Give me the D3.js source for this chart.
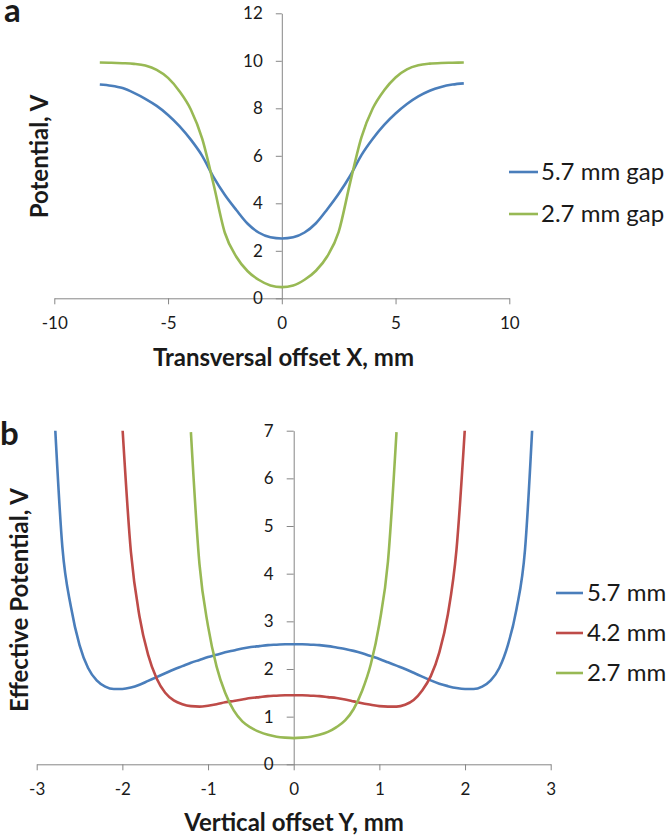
<!DOCTYPE html>
<html><head><meta charset="utf-8">
<script src="https://cdn.jsdelivr.net/npm/d3@7"></script>
<style>
body{margin:0;background:#fff}
svg{display:block}
text{font-family:Lato,"Open Sans",sans-serif;fill:#1a1a1a}
</style>
</head><body>
<svg id="c" width="666" height="836"></svg>
<script>
// ---------- Panel a data ----------
const aX = [-8,-7.5,-7,-6.5,-6,-5.5,-5,-4.5,-4,-3.5,-3,-2.5,-2,-1.5,-1,-0.5,0,0.5,1,1.5,2,2.5,3,3.5,4,4.5,5,5.5,6,6.5,7,7.5,8];
const aGap57 = [9.00,8.95,8.85,8.65,8.40,8.10,7.72,7.25,6.68,6.00,5.10,4.35,3.72,3.14,2.76,2.57,2.52,2.57,2.77,3.16,3.75,4.40,5.15,6.03,6.72,7.30,7.78,8.18,8.50,8.74,8.90,9.00,9.05];
const aGap27 = [9.93,9.92,9.90,9.87,9.80,9.62,9.28,8.72,7.95,6.72,4.80,2.75,1.75,1.14,0.77,0.54,0.47,0.54,0.78,1.16,1.77,2.80,4.85,6.78,8.00,8.76,9.30,9.64,9.81,9.88,9.91,9.92,9.93];
const aSeriesNames = ["5.7 mm gap","2.7 mm gap"];
const aXTicks = [-10,-5,0,5,10];
const aYTicks = [0,2,4,6,8,10,12];

// ---------- Panel b data ----------
const bX57 = [-2.8,-2.7,-2.6,-2.5,-2.4,-2.3,-2.2,-2.1,-2.0,-1.9,-1.8,-1.7,-1.6,-1.5,-1.4,-1.3,-1.2,-1.1,-1.0,-0.9,-0.8,-0.7,-0.6,-0.5,-0.4,-0.3,-0.2,-0.1,0,
  0.1,0.2,0.3,0.4,0.5,0.6,0.7,0.8,0.9,1.0,1.1,1.2,1.3,1.4,1.5,1.6,1.7,1.8,1.9,2.0,2.1,2.2,2.3,2.4,2.5,2.6,2.7,2.8];
const bY57 = [7.6,4.55,3.3,2.5,2.02,1.76,1.63,1.58,1.58,1.61,1.67,1.75,1.83,1.91,1.99,2.06,2.13,2.19,2.25,2.30,2.35,2.39,2.43,2.46,2.48,2.50,2.51,2.52,2.52,
  2.52,2.51,2.50,2.48,2.45,2.42,2.38,2.33,2.27,2.21,2.14,2.07,2.00,1.92,1.84,1.76,1.69,1.64,1.60,1.58,1.58,1.63,1.76,2.02,2.5,3.25,4.5,7.6];
const bX42 = [-2.0,-1.9,-1.8,-1.7,-1.6,-1.5,-1.4,-1.3,-1.2,-1.1,-1.0,-0.9,-0.8,-0.7,-0.6,-0.5,-0.4,-0.3,-0.2,-0.1,0,
  0.1,0.2,0.3,0.4,0.5,0.6,0.7,0.8,0.9,1.0,1.1,1.2,1.3,1.4,1.5,1.6,1.7,1.8,1.9,2.0];
const bY42 = [7.1,4.45,3.1,2.3,1.8,1.5,1.34,1.26,1.22,1.21,1.23,1.26,1.30,1.33,1.36,1.39,1.41,1.43,1.44,1.45,1.45,
  1.45,1.44,1.43,1.41,1.39,1.36,1.32,1.28,1.25,1.22,1.21,1.21,1.25,1.35,1.55,1.85,2.35,3.15,4.5,7.1];
const bX27 = [-1.2,-1.1,-1.0,-0.9,-0.8,-0.7,-0.6,-0.5,-0.4,-0.3,-0.2,-0.1,0,0.1,0.2,0.3,0.4,0.5,0.6,0.7,0.8,0.9,1.0,1.1,1.2];
const bY27 = [6.97,4.2,2.9,2.05,1.5,1.13,0.9,0.77,0.68,0.62,0.58,0.56,0.55,0.56,0.58,0.62,0.68,0.78,0.92,1.16,1.55,2.1,2.95,4.25,6.97];
const bSeriesNames = ["5.7 mm","4.2 mm","2.7 mm"];
const bXTicks = [-3,-2,-1,0,1,2,3];
const bYTicks = [0,1,2,3,4,5,6,7];

const BLUE = "#4a7ebb", RED = "#be4b48", GREEN = "#98b954", AXIS = "#868686";
const fmt = d => String(d);   // plain hyphen-minus like the original

const svg = d3.select("#c");

function styleAxis(g){
  g.select(".domain").attr("stroke", AXIS).attr("stroke-width",1);
  g.selectAll(".tick line").attr("stroke", AXIS).attr("stroke-width",1);
  g.selectAll(".tick text").attr("font-size","17px").attr("fill","#1a1a1a")
    .style("font-family","Lato, 'Open Sans', sans-serif");
}

// ================= Panel a =================
const xA = d3.scaleLinear().domain([-10,10]).range([54.3,509.3]);
const yA = d3.scaleLinear().domain([0,12]).range([298.3,13.3]);

svg.append("g").attr("transform",`translate(0,${yA(0)})`)
  .call(d3.axisBottom(xA).tickValues(aXTicks).tickSize(6).tickSizeOuter(0).tickPadding(13).tickFormat(fmt))
  .call(styleAxis);
svg.append("g").attr("transform",`translate(${xA(0)},0)`)
  .call(d3.axisLeft(yA).tickValues(aYTicks).tickSize(6).tickSizeOuter(0).tickPadding(13).tickFormat(fmt))
  .call(styleAxis);

const lineA = (ys) => d3.line().x((d,i)=>xA(aX[i])).y(d=>yA(d)).curve(d3.curveMonotoneX)(ys);
[[aGap57,BLUE],[aGap27,GREEN]].forEach(([ys,c])=>{
  svg.append("path").attr("d",lineA(ys)).attr("fill","none").attr("stroke",c).attr("stroke-width",2.6)
    .attr("stroke-linejoin","round");
});

svg.append("text").attr("x",4).attr("y",22).attr("font-size","33px").attr("font-weight","bold").text("a");
svg.append("text").attr("x",283.5).attr("y",366).attr("text-anchor","middle")
  .attr("font-size","24px").attr("font-weight","bold").text("Transversal offset X, mm");
svg.append("text").attr("transform","translate(48,156.5) rotate(-90)").attr("text-anchor","middle")
  .attr("font-size","24px").attr("font-weight","bold").text("Potential, V");

const legA = [172,214];
aSeriesNames.forEach((n,i)=>{
  const c = [BLUE,GREEN][i];
  svg.append("line").attr("x1",509).attr("x2",538).attr("y1",legA[i]).attr("y2",legA[i])
    .attr("stroke",c).attr("stroke-width",2.6);
  svg.append("text").attr("x",541).attr("y",legA[i]).attr("dy","0.35em").attr("font-size","24px").text(n);
});

// ================= Panel b =================
const xB = d3.scaleLinear().domain([-3,3]).range([36.7,550.7]);
const yB = d3.scaleLinear().domain([0,7]).range([764.3,430.7]);

svg.append("g").attr("transform",`translate(0,${yB(0)})`)
  .call(d3.axisBottom(xB).tickValues(bXTicks).tickSize(6).tickSizeOuter(0).tickPadding(13).tickFormat(fmt))
  .call(styleAxis);
svg.append("g").attr("transform",`translate(${xB(0)},0)`)
  .call(d3.axisLeft(yB).tickValues(bYTicks).tickSize(7).tickSizeOuter(0).tickPadding(13).tickFormat(fmt))
  .call(styleAxis);

svg.append("clipPath").attr("id","clipB").append("rect")
  .attr("x",xB(-3)).attr("y",yB(7)).attr("width",xB(3)-xB(-3)).attr("height",yB(0)-yB(7)+4);

const lineB = (xs,ys) => d3.line().x((d,i)=>xB(xs[i])).y(d=>yB(d)).curve(d3.curveMonotoneX)(ys);
[[bX57,bY57,BLUE],[bX42,bY42,RED],[bX27,bY27,GREEN]].forEach(([xs,ys,c])=>{
  svg.append("path").attr("d",lineB(xs,ys)).attr("fill","none").attr("stroke",c).attr("stroke-width",2.6)
    .attr("stroke-linejoin","round").attr("clip-path","url(#clipB)");
});

svg.append("text").attr("x",0).attr("y",445).attr("font-size","33px").attr("font-weight","bold").text("b");
svg.append("text").attr("x",294).attr("y",831).attr("text-anchor","middle")
  .attr("font-size","24px").attr("font-weight","bold").text("Vertical offset Y, mm");
svg.append("text").attr("transform","translate(28,600) rotate(-90)").attr("text-anchor","middle")
  .attr("font-size","24px").attr("font-weight","bold").text("Effective Potential, V");

const legB = [593,633,673];
bSeriesNames.forEach((n,i)=>{
  const c = [BLUE,RED,GREEN][i];
  svg.append("line").attr("x1",556).attr("x2",583).attr("y1",legB[i]).attr("y2",legB[i])
    .attr("stroke",c).attr("stroke-width",2.6);
  svg.append("text").attr("x",587).attr("y",legB[i]).attr("dy","0.35em").attr("font-size","24px").text(n);
});
</script>
</body></html>
